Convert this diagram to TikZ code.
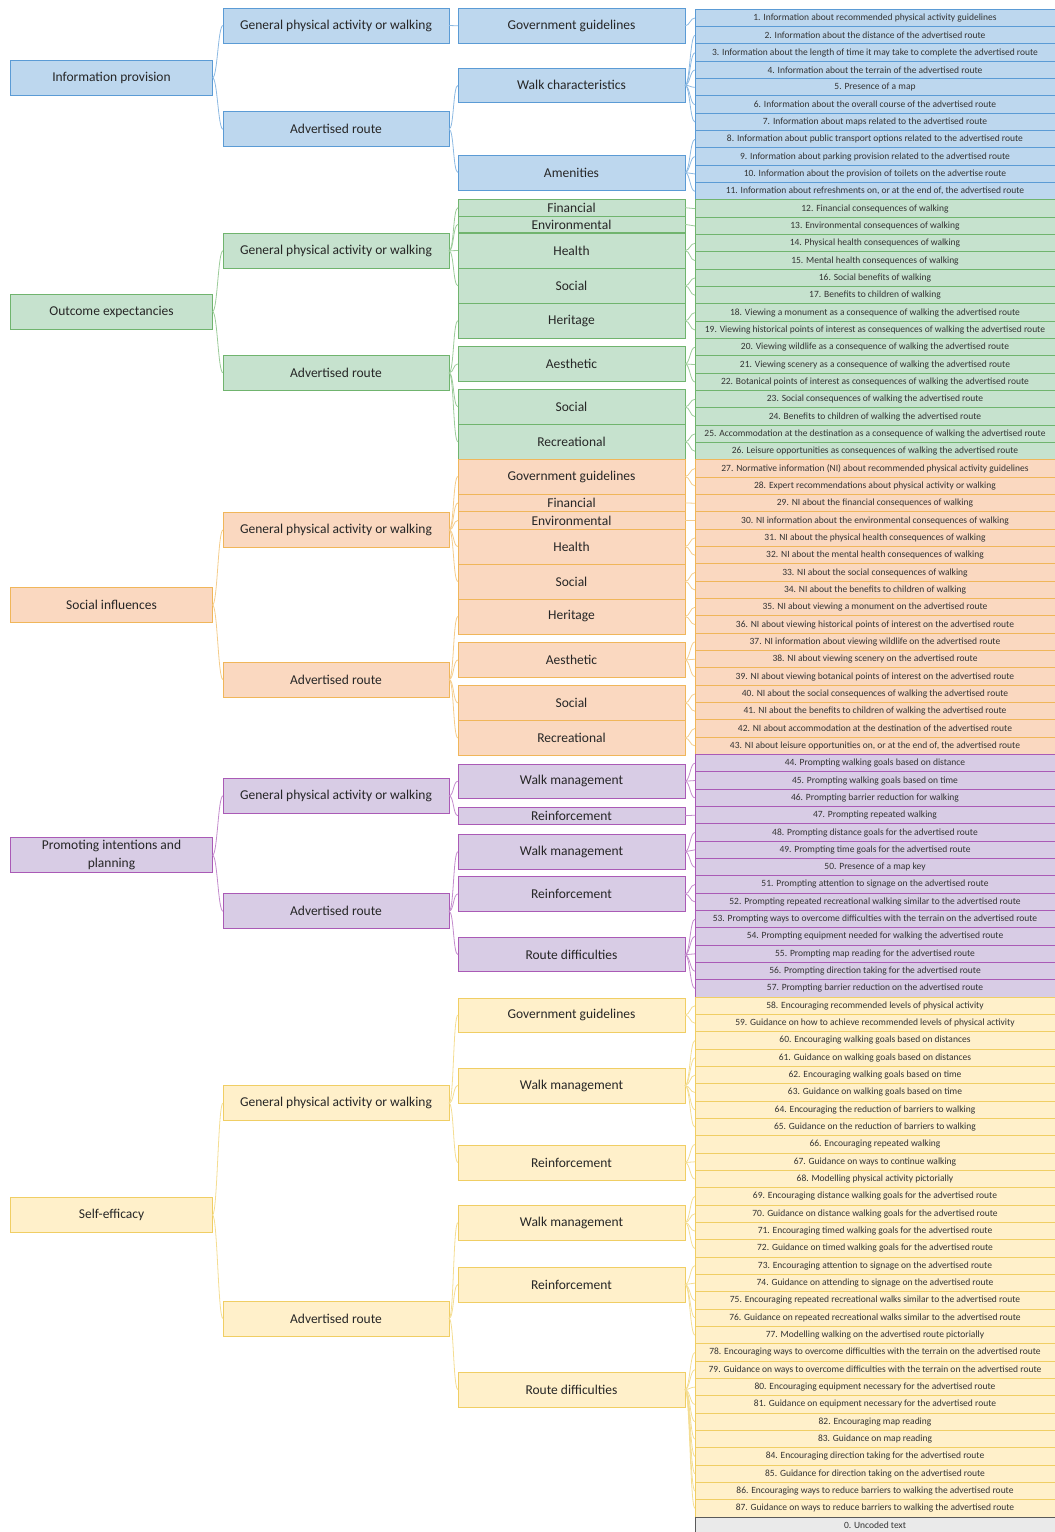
\documentclass[tikz,border=0pt]{standalone}
\usepackage{fontspec}
\setmainfont{Carlito}
\usepackage{xcolor}
\usepackage{tikz}

\definecolor{ipFill}{RGB}{189,215,238}
\definecolor{ipLine}{RGB}{91,155,213}
\definecolor{oeFill}{RGB}{198,226,206}
\definecolor{oeLine}{RGB}{112,180,110}
\definecolor{siFill}{RGB}{250,216,192}
\definecolor{siLine}{RGB}{240,182,90}
\definecolor{pipFill}{RGB}{216,204,229}
\definecolor{pipLine}{RGB}{170,90,182}
\definecolor{seFill}{RGB}{255,240,202}
\definecolor{seLine}{RGB}{240,206,100}
\definecolor{ucFill}{RGB}{234,234,234}
\definecolor{ucLine}{RGB}{90,90,90}

\begin{document}
\begin{tikzpicture}[x=1pt, y=-1pt,
	catbox/.style={draw=#1Line, fill=#1Fill, text=black!85, align=center, inner sep=0pt, outer sep=0pt, line width=0.8pt, font=\fontsize{13.5}{18}\selectfont},
	lone/.style={catbox=#1, minimum width=202pt, minimum height=35pt},
	ltwo/.style={catbox=#1, minimum width=226pt, minimum height=35pt},
	lthree/.style={catbox=#1, minimum width=227pt},
	itembox/.style={draw=#1Line, fill=#1Fill, text=black!80, anchor=west, inner sep=0pt, outer sep=0pt, line width=1pt, minimum width=360pt, minimum height=17.33pt, font=\fontsize{9.5}{11}\selectfont},
	link/.style={draw=#1Line!70, line width=0.8pt, to path={.. controls +(5,0) and +(-5,0) .. (\tikztotarget)}}]
	\useasboundingbox (0,0) rectangle (1055,1532);
	
	% first level
	\node[lone=ip] (ip) at (111.5, 77.8) {Information provision};
	\node[lone=oe] (oe) at (111.5, 311.7) {Outcome expectancies};
	\node[lone=si] (si) at (111.5, 605) {Social influences};
	\node[lone=pip] (pip) at (111.5, 855.2) {Promoting intentions and\\planning};
	\node[lone=se] (se) at (111.5, 1215) {Self-efficacy};
	
	% second level
	\node[ltwo=ip] (ipG) at (336, 25.5) {General physical activity or walking};
	\node[ltwo=ip] (ipA) at (336, 129.2) {Advertised route};
	\node[ltwo=oe] (oeG) at (336, 250.8) {General physical activity or walking};
	\node[ltwo=oe] (oeA) at (336, 372.8) {Advertised route};
	\node[ltwo=si] (siG) at (336, 530) {General physical activity or walking};
	\node[ltwo=si] (siA) at (336, 679.5) {Advertised route};
	\node[ltwo=pip] (pipG) at (336, 795.8) {General physical activity or walking};
	\node[ltwo=pip] (pipA) at (336, 911.2) {Advertised route};
	\node[ltwo=se] (seG) at (336, 1103) {General physical activity or walking};
	\node[ltwo=se] (seA) at (336, 1318.5) {Advertised route};
	
	% third level
	\node[lthree=ip, minimum height=35pt] (ipGov) at (571.5, 25.8) {Government guidelines};
	\node[lthree=ip, minimum height=34pt] (ipWalk) at (571.5, 85.3) {Walk characteristics};
	\node[lthree=ip, minimum height=35pt] (ipAmen) at (571.5, 172.5) {Amenities};
	
	\node[lthree=oe, minimum height=16.7pt] (oeFin) at (571.5, 207.7) {Financial};
	\node[lthree=oe, minimum height=16.7pt] (oeEnv) at (571.5, 224.4) {Environmental};
	\node[lthree=oe, minimum height=35pt] (oeHea) at (571.5, 250.5) {Health};
	\node[lthree=oe, minimum height=35pt] (oeSoc) at (571.5, 285.8) {Social};
	\node[lthree=oe, minimum height=35pt] (oeHer) at (571.5, 320.8) {Heritage};
	\node[lthree=oe, minimum height=35.5pt] (oeAes) at (571.5, 363.9) {Aesthetic};
	\node[lthree=oe, minimum height=35pt] (oeSoc2) at (571.5, 406.8) {Social};
	\node[lthree=oe, minimum height=35pt] (oeRec) at (571.5, 441.8) {Recreational};
	
	\node[lthree=si, minimum height=35pt] (siGov) at (571.5, 476.5) {Government guidelines};
	\node[lthree=si, minimum height=17.5pt] (siFin) at (571.5, 502.9) {Financial};
	\node[lthree=si, minimum height=17.3pt] (siEnv) at (571.5, 520.4) {Environmental};
	\node[lthree=si, minimum height=35pt] (siHea) at (571.5, 546.5) {Health};
	\node[lthree=si, minimum height=35pt] (siSoc) at (571.5, 581.5) {Social};
	\node[lthree=si, minimum height=35pt] (siHer) at (571.5, 616.5) {Heritage};
	\node[lthree=si, minimum height=34.6pt] (siAes) at (571.5, 660) {Aesthetic};
	\node[lthree=si, minimum height=35.5pt] (siSoc2) at (571.5, 702.9) {Social};
	\node[lthree=si, minimum height=34.6pt] (siRec) at (571.5, 738) {Recreational};
	
	\node[lthree=pip, minimum height=34.3pt] (pipWm) at (571.5, 781.2) {Walk management};
	\node[lthree=pip, minimum height=16.7pt] (pipRe) at (571.5, 815.7) {Reinforcement};
	\node[lthree=pip, minimum height=34.7pt] (pipWm2) at (571.5, 851.7) {Walk management};
	\node[lthree=pip, minimum height=35.5pt] (pipRe2) at (571.5, 893.9) {Reinforcement};
	\node[lthree=pip, minimum height=34pt] (pipRd) at (571.5, 954.7) {Route difficulties};
	
	\node[lthree=se, minimum height=34pt] (seGov) at (571.5, 1015) {Government guidelines};
	\node[lthree=se, minimum height=35pt] (seWm) at (571.5, 1085.5) {Walk management};
	\node[lthree=se, minimum height=35pt] (seRe) at (571.5, 1162.5) {Reinforcement};
	\node[lthree=se, minimum height=35pt] (seWm2) at (571.5, 1222.5) {Walk management};
	\node[lthree=se, minimum height=35pt] (seRe2) at (571.5, 1284.5) {Reinforcement};
	\node[lthree=se, minimum height=35pt] (seRd) at (571.5, 1389.5) {Route difficulties};
	
	% coded items
	\foreach \txt [count=\i from 1] in {
		{Information about recommended physical activity guidelines},
		{Information about the distance of the advertised route},
		{Information about the length of time it may take to complete the advertised route},
		{Information about the terrain of the advertised route},
		{Presence of a map},
		{Information about the overall course of the advertised route},
		{Information about maps related to the advertised route},
		{Information about public transport options related to the advertised route},
		{Information about parking provision related to the advertised route},
		{Information about the provision of toilets on the advertise route},
		{Information about refreshments on, or at the end of, the advertised route}}
		\node[itembox=ip] (r\i) at (695, {18+(\i-1)*17.33}) {\i. \txt};
	
	\foreach \txt [count=\i from 12] in {
		{Financial consequences of walking},
		{Environmental consequences of walking},
		{Physical health consequences of walking},
		{Mental health consequences of walking},
		{Social benefits of walking},
		{Benefits to children of walking},
		{Viewing a monument as a consequence of walking the advertised route},
		{Viewing historical points of interest as consequences of walking the advertised route},
		{Viewing wildlife as a consequence of walking the advertised route},
		{Viewing scenery as a consequence of walking the advertised route},
		{Botanical points of interest as consequences of walking the advertised route},
		{Social consequences of walking the advertised route},
		{Benefits to children of walking the advertised route},
		{Accommodation at the destination as a consequence of walking the advertised route},
		{Leisure opportunities as consequences of walking the advertised route}}
		\node[itembox=oe] (r\i) at (695, {18+(\i-1)*17.33}) {\i. \txt};
	
	\foreach \txt [count=\i from 27] in {
		{Normative information (NI) about recommended physical activity guidelines},
		{Expert recommendations about physical activity or walking},
		{NI about the financial consequences of walking},
		{NI information about the environmental consequences of walking},
		{NI about the physical health consequences of walking},
		{NI about the mental health consequences of walking},
		{NI about the social consequences of walking},
		{NI about the benefits to children of walking},
		{NI about viewing a monument on the advertised route},
		{NI about viewing historical points of interest on the advertised route},
		{NI information about viewing wildlife on the advertised route},
		{NI about viewing scenery on the advertised route},
		{NI about viewing botanical points of interest on the advertised route},
		{NI about the social consequences of walking the advertised route},
		{NI about the benefits to children of walking the advertised route},
		{NI about accommodation at the destination of the advertised route},
		{NI about leisure opportunities on, or at the end of, the advertised route}}
		\node[itembox=si] (r\i) at (695, {18+(\i-1)*17.33}) {\i. \txt};
	
	\foreach \txt [count=\i from 44] in {
		{Prompting walking goals based on distance},
		{Prompting walking goals based on time},
		{Prompting barrier reduction for walking},
		{Prompting repeated walking},
		{Prompting distance goals for the advertised route},
		{Prompting time goals for the advertised route},
		{Presence of a map key},
		{Prompting attention to signage on the advertised route},
		{Prompting repeated recreational walking similar to the advertised route},
		{Prompting ways to overcome difficulties with the terrain on the advertised route},
		{Prompting equipment needed for walking the advertised route},
		{Prompting map reading for the advertised route},
		{Prompting direction taking for the advertised route},
		{Prompting barrier reduction on the advertised route}}
		\node[itembox=pip] (r\i) at (695, {18+(\i-1)*17.33}) {\i. \txt};
	
	\foreach \txt [count=\i from 58] in {
		{Encouraging recommended levels of physical activity},
		{Guidance on how to achieve recommended levels of physical activity},
		{Encouraging walking goals based on distances},
		{Guidance on walking goals based on distances},
		{Encouraging walking goals based on time},
		{Guidance on walking goals based on time},
		{Encouraging the reduction of barriers to walking},
		{Guidance on the reduction of barriers to walking},
		{Encouraging repeated walking},
		{Guidance on ways to continue walking},
		{Modelling physical activity pictorially},
		{Encouraging distance walking goals for the advertised route},
		{Guidance on distance walking goals for the advertised route},
		{Encouraging timed walking goals for the advertised route},
		{Guidance on timed walking goals for the advertised route},
		{Encouraging attention to signage on the advertised route},
		{Guidance on attending to signage on the advertised route},
		{Encouraging repeated recreational walks similar to the advertised route},
		{Guidance on repeated recreational walks similar to the advertised route},
		{Modelling walking on the advertised route pictorially},
		{Encouraging ways to overcome difficulties with the terrain on the advertised route},
		{Guidance on ways to overcome difficulties with the terrain on the advertised route},
		{Encouraging equipment necessary for the advertised route},
		{Guidance on equipment necessary for the advertised route},
		{Encouraging map reading},
		{Guidance on map reading},
		{Encouraging direction taking for the advertised route},
		{Guidance for direction taking on the advertised route},
		{Encouraging ways to reduce barriers to walking the advertised route},
		{Guidance on ways to reduce barriers to walking the advertised route}}
		\node[itembox=se] (r\i) at (695, {18+(\i-1)*17.33}) {\i. \txt};
	
	\node[itembox=uc] (r0) at (695, {18+87*17.33}) {0. Uncoded text};
	
	% first to second level
	\foreach \g in {ip, oe, si, pip, se} {
		\draw[link=\g] (\g.east) to (\g G.west);
		\draw[link=\g] (\g.east) to (\g A.west);
	}
	
	% second to third level
	\foreach \a/\b in {ipG/ipGov, ipA/ipWalk, ipA/ipAmen}
		\draw[link=ip] (\a.east) to (\b.west);
	\foreach \a/\b in {oeG/oeFin, oeG/oeEnv, oeG/oeHea, oeG/oeSoc, oeA/oeHer, oeA/oeAes, oeA/oeSoc2, oeA/oeRec}
		\draw[link=oe] (\a.east) to (\b.west);
	\foreach \a/\b in {siG/siGov, siG/siFin, siG/siEnv, siG/siHea, siG/siSoc, siA/siHer, siA/siAes, siA/siSoc2, siA/siRec}
		\draw[link=si] (\a.east) to (\b.west);
	\foreach \a/\b in {pipG/pipWm, pipG/pipRe, pipA/pipWm2, pipA/pipRe2, pipA/pipRd}
		\draw[link=pip] (\a.east) to (\b.west);
	\foreach \a/\b in {seG/seGov, seG/seWm, seG/seRe, seA/seWm2, seA/seRe2, seA/seRd}
		\draw[link=se] (\a.east) to (\b.west);
	
	% third level to items
	\foreach \g/\a/\f/\l in {ip/ipGov/1/1, ip/ipWalk/2/7, ip/ipAmen/8/11,
		oe/oeFin/12/12, oe/oeEnv/13/13, oe/oeHea/14/15, oe/oeSoc/16/17, oe/oeHer/18/19, oe/oeAes/20/22, oe/oeSoc2/23/24, oe/oeRec/25/26,
		si/siGov/27/28, si/siFin/29/29, si/siEnv/30/30, si/siHea/31/32, si/siSoc/33/34, si/siHer/35/36, si/siAes/37/39, si/siSoc2/40/41, si/siRec/42/43,
		pip/pipWm/44/46, pip/pipRe/47/47, pip/pipWm2/48/50, pip/pipRe2/51/52, pip/pipRd/53/57,
		se/seGov/58/59, se/seWm/60/65, se/seRe/66/68, se/seWm2/69/72, se/seRe2/73/77, se/seRd/78/87}
		\foreach \k in {\f,...,\l}
			\draw[link=\g] (\a.east) to (r\k.west);
\end{tikzpicture}
\end{document}
